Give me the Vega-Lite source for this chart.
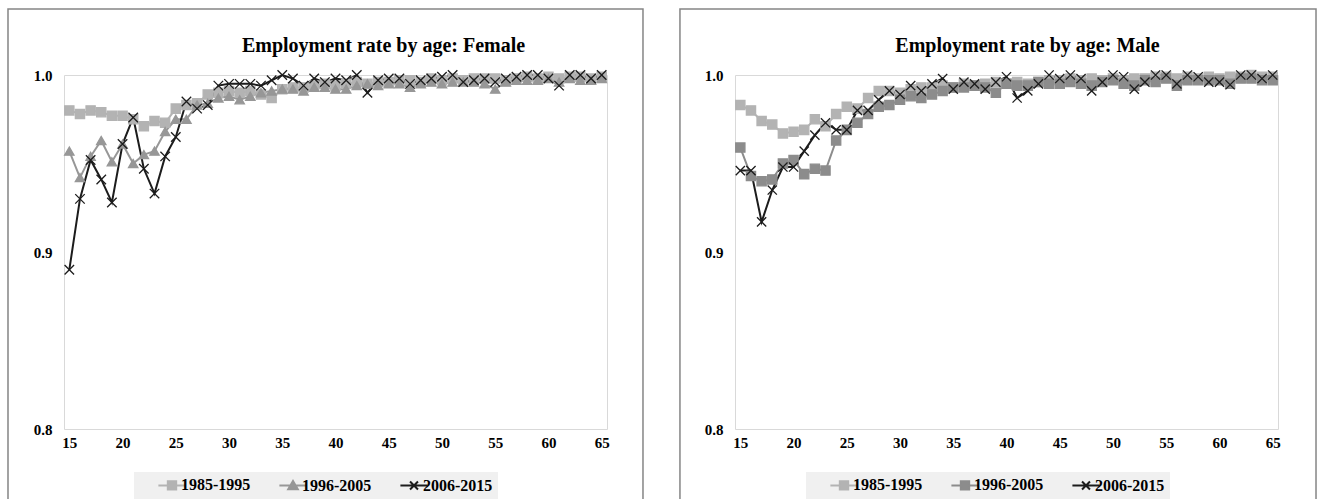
{
  "$schema": "https://vega.github.io/schema/vega-lite/v6.json",
  "background": "white",
  "padding": {"left": 6, "top": 7, "right": 0, "bottom": 0},
  "spacing": 33,
  "datasets": {
    "emp": [
      {"sex":"Female","age":15,"1985-1995":0.980,"1996-2005":0.957,"2006-2015":0.890},
      {"sex":"Female","age":16,"1985-1995":0.978,"1996-2005":0.942,"2006-2015":0.930},
      {"sex":"Female","age":17,"1985-1995":0.980,"1996-2005":0.954,"2006-2015":0.952},
      {"sex":"Female","age":18,"1985-1995":0.979,"1996-2005":0.963,"2006-2015":0.941},
      {"sex":"Female","age":19,"1985-1995":0.977,"1996-2005":0.951,"2006-2015":0.928},
      {"sex":"Female","age":20,"1985-1995":0.977,"1996-2005":0.961,"2006-2015":0.961},
      {"sex":"Female","age":21,"1985-1995":0.975,"1996-2005":0.950,"2006-2015":0.976},
      {"sex":"Female","age":22,"1985-1995":0.971,"1996-2005":0.955,"2006-2015":0.947},
      {"sex":"Female","age":23,"1985-1995":0.974,"1996-2005":0.957,"2006-2015":0.933},
      {"sex":"Female","age":24,"1985-1995":0.973,"1996-2005":0.968,"2006-2015":0.954},
      {"sex":"Female","age":25,"1985-1995":0.981,"1996-2005":0.975,"2006-2015":0.965},
      {"sex":"Female","age":26,"1985-1995":0.983,"1996-2005":0.975,"2006-2015":0.985},
      {"sex":"Female","age":27,"1985-1995":0.984,"1996-2005":0.983,"2006-2015":0.981},
      {"sex":"Female","age":28,"1985-1995":0.989,"1996-2005":0.984,"2006-2015":0.983},
      {"sex":"Female","age":29,"1985-1995":0.990,"1996-2005":0.987,"2006-2015":0.994},
      {"sex":"Female","age":30,"1985-1995":0.991,"1996-2005":0.988,"2006-2015":0.995},
      {"sex":"Female","age":31,"1985-1995":0.990,"1996-2005":0.986,"2006-2015":0.995},
      {"sex":"Female","age":32,"1985-1995":0.991,"1996-2005":0.988,"2006-2015":0.995},
      {"sex":"Female","age":33,"1985-1995":0.989,"1996-2005":0.990,"2006-2015":0.994},
      {"sex":"Female","age":34,"1985-1995":0.987,"1996-2005":0.991,"2006-2015":0.997},
      {"sex":"Female","age":35,"1985-1995":0.992,"1996-2005":0.992,"2006-2015":1.000},
      {"sex":"Female","age":36,"1985-1995":0.993,"1996-2005":0.992,"2006-2015":0.998},
      {"sex":"Female","age":37,"1985-1995":0.993,"1996-2005":0.991,"2006-2015":0.994},
      {"sex":"Female","age":38,"1985-1995":0.994,"1996-2005":0.993,"2006-2015":0.998},
      {"sex":"Female","age":39,"1985-1995":0.995,"1996-2005":0.993,"2006-2015":0.996},
      {"sex":"Female","age":40,"1985-1995":0.994,"1996-2005":0.992,"2006-2015":0.998},
      {"sex":"Female","age":41,"1985-1995":0.995,"1996-2005":0.992,"2006-2015":0.997},
      {"sex":"Female","age":42,"1985-1995":0.996,"1996-2005":0.994,"2006-2015":1.000},
      {"sex":"Female","age":43,"1985-1995":0.995,"1996-2005":0.995,"2006-2015":0.990},
      {"sex":"Female","age":44,"1985-1995":0.996,"1996-2005":0.994,"2006-2015":0.997},
      {"sex":"Female","age":45,"1985-1995":0.996,"1996-2005":0.995,"2006-2015":0.998},
      {"sex":"Female","age":46,"1985-1995":0.997,"1996-2005":0.995,"2006-2015":0.998},
      {"sex":"Female","age":47,"1985-1995":0.997,"1996-2005":0.993,"2006-2015":0.995},
      {"sex":"Female","age":48,"1985-1995":0.996,"1996-2005":0.995,"2006-2015":0.997},
      {"sex":"Female","age":49,"1985-1995":0.998,"1996-2005":0.996,"2006-2015":0.998},
      {"sex":"Female","age":50,"1985-1995":0.997,"1996-2005":0.995,"2006-2015":0.999},
      {"sex":"Female","age":51,"1985-1995":0.998,"1996-2005":0.996,"2006-2015":1.000},
      {"sex":"Female","age":52,"1985-1995":0.997,"1996-2005":0.996,"2006-2015":0.996},
      {"sex":"Female","age":53,"1985-1995":0.998,"1996-2005":0.996,"2006-2015":0.997},
      {"sex":"Female","age":54,"1985-1995":0.998,"1996-2005":0.995,"2006-2015":0.998},
      {"sex":"Female","age":55,"1985-1995":0.998,"1996-2005":0.992,"2006-2015":0.996},
      {"sex":"Female","age":56,"1985-1995":0.997,"1996-2005":0.996,"2006-2015":0.998},
      {"sex":"Female","age":57,"1985-1995":0.998,"1996-2005":0.997,"2006-2015":0.999},
      {"sex":"Female","age":58,"1985-1995":0.999,"1996-2005":0.997,"2006-2015":1.000},
      {"sex":"Female","age":59,"1985-1995":0.998,"1996-2005":0.997,"2006-2015":1.000},
      {"sex":"Female","age":60,"1985-1995":0.999,"1996-2005":0.998,"2006-2015":0.998},
      {"sex":"Female","age":61,"1985-1995":0.998,"1996-2005":0.996,"2006-2015":0.994},
      {"sex":"Female","age":62,"1985-1995":0.999,"1996-2005":0.998,"2006-2015":1.000},
      {"sex":"Female","age":63,"1985-1995":0.999,"1996-2005":0.997,"2006-2015":1.000},
      {"sex":"Female","age":64,"1985-1995":0.998,"1996-2005":0.997,"2006-2015":0.998},
      {"sex":"Female","age":65,"1985-1995":0.999,"1996-2005":0.998,"2006-2015":1.000},
      {"sex":"Male","age":15,"1985-1995":0.983,"1996-2005":0.959,"2006-2015":0.946},
      {"sex":"Male","age":16,"1985-1995":0.980,"1996-2005":0.943,"2006-2015":0.946},
      {"sex":"Male","age":17,"1985-1995":0.974,"1996-2005":0.940,"2006-2015":0.917},
      {"sex":"Male","age":18,"1985-1995":0.972,"1996-2005":0.941,"2006-2015":0.935},
      {"sex":"Male","age":19,"1985-1995":0.967,"1996-2005":0.950,"2006-2015":0.948},
      {"sex":"Male","age":20,"1985-1995":0.968,"1996-2005":0.952,"2006-2015":0.948},
      {"sex":"Male","age":21,"1985-1995":0.969,"1996-2005":0.944,"2006-2015":0.957},
      {"sex":"Male","age":22,"1985-1995":0.975,"1996-2005":0.947,"2006-2015":0.966},
      {"sex":"Male","age":23,"1985-1995":0.971,"1996-2005":0.946,"2006-2015":0.973},
      {"sex":"Male","age":24,"1985-1995":0.978,"1996-2005":0.963,"2006-2015":0.969},
      {"sex":"Male","age":25,"1985-1995":0.982,"1996-2005":0.969,"2006-2015":0.969},
      {"sex":"Male","age":26,"1985-1995":0.981,"1996-2005":0.973,"2006-2015":0.980},
      {"sex":"Male","age":27,"1985-1995":0.987,"1996-2005":0.978,"2006-2015":0.980},
      {"sex":"Male","age":28,"1985-1995":0.991,"1996-2005":0.982,"2006-2015":0.986},
      {"sex":"Male","age":29,"1985-1995":0.991,"1996-2005":0.983,"2006-2015":0.991},
      {"sex":"Male","age":30,"1985-1995":0.990,"1996-2005":0.986,"2006-2015":0.989},
      {"sex":"Male","age":31,"1985-1995":0.992,"1996-2005":0.988,"2006-2015":0.994},
      {"sex":"Male","age":32,"1985-1995":0.993,"1996-2005":0.987,"2006-2015":0.991},
      {"sex":"Male","age":33,"1985-1995":0.993,"1996-2005":0.989,"2006-2015":0.995},
      {"sex":"Male","age":34,"1985-1995":0.994,"1996-2005":0.991,"2006-2015":0.998},
      {"sex":"Male","age":35,"1985-1995":0.993,"1996-2005":0.993,"2006-2015":0.992},
      {"sex":"Male","age":36,"1985-1995":0.995,"1996-2005":0.993,"2006-2015":0.996},
      {"sex":"Male","age":37,"1985-1995":0.994,"1996-2005":0.994,"2006-2015":0.995},
      {"sex":"Male","age":38,"1985-1995":0.995,"1996-2005":0.993,"2006-2015":0.992},
      {"sex":"Male","age":39,"1985-1995":0.996,"1996-2005":0.990,"2006-2015":0.996},
      {"sex":"Male","age":40,"1985-1995":0.995,"1996-2005":0.995,"2006-2015":0.999},
      {"sex":"Male","age":41,"1985-1995":0.996,"1996-2005":0.994,"2006-2015":0.987},
      {"sex":"Male","age":42,"1985-1995":0.995,"1996-2005":0.994,"2006-2015":0.991},
      {"sex":"Male","age":43,"1985-1995":0.996,"1996-2005":0.996,"2006-2015":0.995},
      {"sex":"Male","age":44,"1985-1995":0.997,"1996-2005":0.995,"2006-2015":1.000},
      {"sex":"Male","age":45,"1985-1995":0.997,"1996-2005":0.995,"2006-2015":0.998},
      {"sex":"Male","age":46,"1985-1995":0.998,"1996-2005":0.996,"2006-2015":1.000},
      {"sex":"Male","age":47,"1985-1995":0.997,"1996-2005":0.995,"2006-2015":0.998},
      {"sex":"Male","age":48,"1985-1995":0.998,"1996-2005":0.994,"2006-2015":0.991},
      {"sex":"Male","age":49,"1985-1995":0.997,"1996-2005":0.996,"2006-2015":0.996},
      {"sex":"Male","age":50,"1985-1995":0.998,"1996-2005":0.997,"2006-2015":1.000},
      {"sex":"Male","age":51,"1985-1995":0.997,"1996-2005":0.995,"2006-2015":0.999},
      {"sex":"Male","age":52,"1985-1995":0.998,"1996-2005":0.994,"2006-2015":0.992},
      {"sex":"Male","age":53,"1985-1995":0.998,"1996-2005":0.997,"2006-2015":0.996},
      {"sex":"Male","age":54,"1985-1995":0.999,"1996-2005":0.996,"2006-2015":1.000},
      {"sex":"Male","age":55,"1985-1995":0.999,"1996-2005":0.998,"2006-2015":1.000},
      {"sex":"Male","age":56,"1985-1995":0.998,"1996-2005":0.994,"2006-2015":0.995},
      {"sex":"Male","age":57,"1985-1995":0.999,"1996-2005":0.997,"2006-2015":1.000},
      {"sex":"Male","age":58,"1985-1995":0.998,"1996-2005":0.997,"2006-2015":0.999},
      {"sex":"Male","age":59,"1985-1995":0.999,"1996-2005":0.997,"2006-2015":0.996},
      {"sex":"Male","age":60,"1985-1995":0.998,"1996-2005":0.997,"2006-2015":0.996},
      {"sex":"Male","age":61,"1985-1995":0.999,"1996-2005":0.995,"2006-2015":0.9945},
      {"sex":"Male","age":62,"1985-1995":0.999,"1996-2005":0.998,"2006-2015":1.000},
      {"sex":"Male","age":63,"1985-1995":1.000,"1996-2005":0.998,"2006-2015":1.000},
      {"sex":"Male","age":64,"1985-1995":0.999,"1996-2005":0.997,"2006-2015":0.998},
      {"sex":"Male","age":65,"1985-1995":0.999,"1996-2005":0.997,"2006-2015":1.000}
    ]
  },
  "config": {
    "font": "Liberation Serif",
    "view": {"stroke": "#d9d9d9", "strokeWidth": 1},
    "axis": {
      "domain": false, "ticks": false, "grid": false, "title": null,
      "labelFont": "Liberation Serif", "labelFontWeight": "bold", "labelFontSize": 15, "labelColor": "#000000"
    },
    "axisX": {"labelPadding": 6},
    "axisY": {"labelPadding": 12},
    "title": {"font": "Liberation Serif", "fontWeight": "bold", "fontSize": 20, "color": "#000000", "anchor": "middle", "frame": "group", "offset": -48},
    "legend": {
      "orient": "none", "direction": "horizontal", "title": null,
      "fillColor": "#f0f0f0", "padding": 5, "columnPadding": 9,
      "labelFont": "Liberation Serif", "labelFontWeight": "bold", "labelFontSize": 16, "labelColor": "#000000",
      "symbolSize": 70, "symbolStrokeWidth": 2, "symbolOffset": 25, "labelOffset": 1
    }
  },
  "hconcat": [
    {
      "width": 543, "height": 354,
      "title": {"text": "Employment rate by age: Female", "dx": 48},
      "layer": [
        {
          "data": {"values": [{}]},
          "mark": {"type": "rect", "filled": false, "stroke": "#858585", "strokeWidth": 1.5},
          "encoding": {
            "x": {"datum": 9.24, "type": "quantitative", "scale": {"domain": [14.5, 65.5], "nice": false, "zero": false}},
            "x2": {"datum": 68.88},
            "y": {"datum": 1.0373, "type": "quantitative", "scale": {"domain": [0.8, 1.0], "nice": false, "zero": false}},
            "y2": {"datum": 0.75}
          }
        },
        {
          "data": {"name": "emp"},
          "transform": [
            {"filter": "datum.sex === 'Female'"},
            {"fold": ["1985-1995", "1996-2005", "2006-2015"], "as": ["period", "rate"]}
          ],
          "layer": [
            {
              "mark": {"type": "line", "strokeWidth": 2},
              "encoding": {
                "x": {"field": "age", "type": "quantitative", "scale": {"domain": [14.5, 65.5], "nice": false, "zero": false}, "axis": {"values": [15,20,25,30,35,40,45,50,55,60,65]}},
                "y": {"field": "rate", "type": "quantitative", "scale": {"domain": [0.8, 1.0], "nice": false, "zero": false}, "axis": {"values": [0.8, 0.9, 1.0], "format": ".1f"}},
                "color": {"field": "period", "type": "nominal", "scale": {"domain": ["1985-1995", "1996-2005", "2006-2015"], "range": ["#b3b3b3", "#979797", "#1c1c1c"]}, "legend": null},
                "order": {"field": "age"}
              }
            },
            {
              "mark": {"type": "point", "filled": true, "strokeWidth": 1.3, "opacity": 1},
              "encoding": {
                "x": {"field": "age", "type": "quantitative", "scale": {"domain": [14.5, 65.5], "nice": false, "zero": false}},
                "y": {"field": "rate", "type": "quantitative", "scale": {"domain": [0.8, 1.0], "nice": false, "zero": false}},
                "color": {"field": "period", "type": "nominal", "scale": {"domain": ["1985-1995", "1996-2005", "2006-2015"], "range": ["#b3b3b3", "#979797", "#1c1c1c"]}, "legend": null},
                "stroke": {"field": "period", "type": "nominal", "scale": {"domain": ["1985-1995", "1996-2005", "2006-2015"], "range": ["#b3b3b3", "#979797", "#1c1c1c"]}, "legend": null},
                "shape": {"field": "period", "type": "nominal", "scale": {"domain": ["1985-1995", "1996-2005", "2006-2015"], "range": ["square", "triangle-up", "M-1,-1L1,1M-1,1L1,-1"]}, "legend": null},
                "size": {"field": "period", "type": "nominal", "scale": {"domain": ["1985-1995", "1996-2005", "2006-2015"], "range": [85, 90, 60]}, "legend": null}
              }
            }
          ]
        },
        {
          "data": {"values": [{}]},
          "mark": {"type": "point", "filled": true, "size": 70, "strokeWidth": 2, "opacity": 1},
          "encoding": {
            "x": {"field": "age", "type": "quantitative", "scale": {"domain": [14.5, 65.5], "nice": false, "zero": false}},
            "y": {"field": "rate", "type": "quantitative", "scale": {"domain": [0.8, 1.0], "nice": false, "zero": false}},
            "color": {"field": "period", "type": "nominal", "scale": {"domain": ["1985-1995", "1996-2005", "2006-2015"], "range": ["#b3b3b3", "#979797", "#1c1c1c"]}, "legend": {"legendX": 70, "legendY": 397}},
            "stroke": {"field": "period", "type": "nominal", "scale": {"domain": ["1985-1995", "1996-2005", "2006-2015"], "range": ["#b3b3b3", "#979797", "#1c1c1c"]}, "legend": {"legendX": 70, "legendY": 397}},
            "shape": {"field": "period", "type": "nominal", "scale": {"domain": ["1985-1995", "1996-2005", "2006-2015"], "range": ["M-3.25,0H3.25M-1,-1H1V1H-1Z", "M-3.25,0H3.25M0,-1.1L1.15,0.9H-1.15Z", "M-3.25,0H3.25M-0.95,-0.95L0.95,0.95M-0.95,0.95L0.95,-0.95"]}, "legend": {"legendX": 70, "legendY": 397}}
          }
        }
      ],
      "resolve": {"scale": {"color": "independent", "stroke": "independent", "shape": "independent"}}
    },
    {
      "width": 543, "height": 354,
      "title": {"text": "Employment rate by age: Male", "dx": 21},
      "layer": [
        {
          "data": {"values": [{}]},
          "mark": {"type": "rect", "filled": false, "stroke": "#858585", "strokeWidth": 1.5},
          "encoding": {
            "x": {"datum": 9.33, "type": "quantitative", "scale": {"domain": [14.5, 65.5], "nice": false, "zero": false}},
            "x2": {"datum": 69.07},
            "y": {"datum": 1.0373, "type": "quantitative", "scale": {"domain": [0.8, 1.0], "nice": false, "zero": false}},
            "y2": {"datum": 0.75}
          }
        },
        {
          "data": {"name": "emp"},
          "transform": [
            {"filter": "datum.sex === 'Male'"},
            {"fold": ["1985-1995", "1996-2005", "2006-2015"], "as": ["period", "rate"]}
          ],
          "layer": [
            {
              "mark": {"type": "line", "strokeWidth": 2},
              "encoding": {
                "x": {"field": "age", "type": "quantitative", "scale": {"domain": [14.5, 65.5], "nice": false, "zero": false}, "axis": {"values": [15,20,25,30,35,40,45,50,55,60,65]}},
                "y": {"field": "rate", "type": "quantitative", "scale": {"domain": [0.8, 1.0], "nice": false, "zero": false}, "axis": {"values": [0.8, 0.9, 1.0], "format": ".1f"}},
                "color": {"field": "period", "type": "nominal", "scale": {"domain": ["1985-1995", "1996-2005", "2006-2015"], "range": ["#b3b3b3", "#8c8c8c", "#1c1c1c"]}, "legend": null},
                "order": {"field": "age"}
              }
            },
            {
              "mark": {"type": "point", "filled": true, "strokeWidth": 1.3, "opacity": 1},
              "encoding": {
                "x": {"field": "age", "type": "quantitative", "scale": {"domain": [14.5, 65.5], "nice": false, "zero": false}},
                "y": {"field": "rate", "type": "quantitative", "scale": {"domain": [0.8, 1.0], "nice": false, "zero": false}},
                "color": {"field": "period", "type": "nominal", "scale": {"domain": ["1985-1995", "1996-2005", "2006-2015"], "range": ["#b3b3b3", "#8c8c8c", "#1c1c1c"]}, "legend": null},
                "stroke": {"field": "period", "type": "nominal", "scale": {"domain": ["1985-1995", "1996-2005", "2006-2015"], "range": ["#b3b3b3", "#8c8c8c", "#1c1c1c"]}, "legend": null},
                "shape": {"field": "period", "type": "nominal", "scale": {"domain": ["1985-1995", "1996-2005", "2006-2015"], "range": ["square", "square", "M-1,-1L1,1M-1,1L1,-1"]}, "legend": null},
                "size": {"field": "period", "type": "nominal", "scale": {"domain": ["1985-1995", "1996-2005", "2006-2015"], "range": [85, 85, 60]}, "legend": null}
              }
            }
          ]
        },
        {
          "data": {"values": [{}]},
          "mark": {"type": "point", "filled": true, "size": 70, "strokeWidth": 2, "opacity": 1},
          "encoding": {
            "x": {"field": "age", "type": "quantitative", "scale": {"domain": [14.5, 65.5], "nice": false, "zero": false}},
            "y": {"field": "rate", "type": "quantitative", "scale": {"domain": [0.8, 1.0], "nice": false, "zero": false}},
            "color": {"field": "period", "type": "nominal", "scale": {"domain": ["1985-1995", "1996-2005", "2006-2015"], "range": ["#b3b3b3", "#8c8c8c", "#1c1c1c"]}, "legend": {"legendX": 71, "legendY": 397}},
            "stroke": {"field": "period", "type": "nominal", "scale": {"domain": ["1985-1995", "1996-2005", "2006-2015"], "range": ["#b3b3b3", "#8c8c8c", "#1c1c1c"]}, "legend": {"legendX": 71, "legendY": 397}},
            "shape": {"field": "period", "type": "nominal", "scale": {"domain": ["1985-1995", "1996-2005", "2006-2015"], "range": ["M-3.25,0H3.25M-1,-1H1V1H-1Z", "M-3.25,0H3.25M-1,-1H1V1H-1Z", "M-3.25,0H3.25M-0.95,-0.95L0.95,0.95M-0.95,0.95L0.95,-0.95"]}, "legend": {"legendX": 71, "legendY": 397}}
          }
        }
      ],
      "resolve": {"scale": {"color": "independent", "stroke": "independent", "shape": "independent"}}
    }
  ],
  "resolve": {"scale": {"color": "independent", "stroke": "independent", "shape": "independent", "size": "independent"}, "legend": {"color": "independent", "stroke": "independent", "shape": "independent"}}
}
